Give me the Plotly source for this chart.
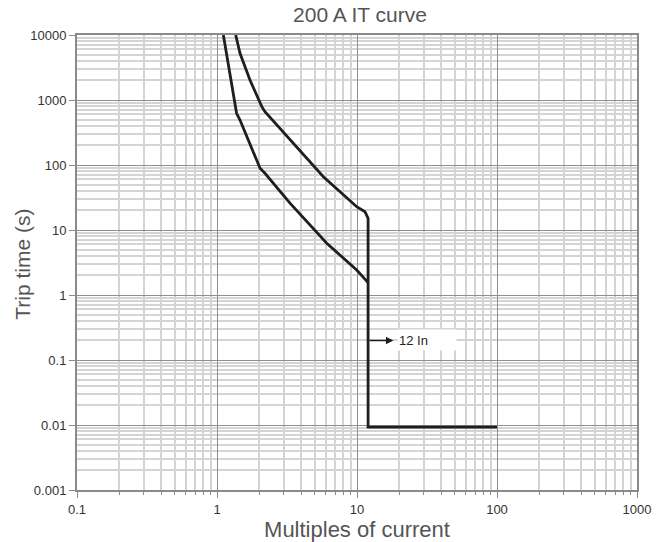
import numpy as np
import plotly.graph_objects as go

# Upper (max) trip curve, continuing into the instantaneous trip
upper_x = [1.36, 1.46, 1.72, 2.09, 2.20, 3.32, 5.75, 9.95, 11.4, 12.0, 12.0, 100]
upper_y = [10000, 5230, 2030, 789, 661, 243, 66, 22.8, 19.1, 15.1, 0.0093, 0.0093]

# Lower (min) trip curve
lower_x = [1.11, 1.38, 1.46, 2.03, 2.20, 3.32, 6.08, 9.95, 12.0]
lower_y = [10000, 624, 492, 89, 74.5, 25.9, 6.24, 2.43, 1.55]

threshold = 12
arrow_end = 18.2
arrow_time = 0.2
label = "12 In"

x_decades = [0.1, 1, 10, 100, 1000]
y_decades = [0.001, 0.01, 0.1, 1, 10, 100, 1000, 10000]
x_ticktext = ["0.1", "1", "10", "100", "1000"]
y_ticktext = ["0.001", "0.01", "0.1", "1", "10", "100", "1000", "10000"]

def minors(decs):
    out = []
    for d in decs[:-1]:
        out += [d * k for k in range(2, 10)]
    return out

FONT = "Liberation Sans, Arial, sans-serif"
line_col = "#1e1e1e"

fig = go.Figure()
fig.add_trace(go.Scatter(x=upper_x, y=upper_y, mode="lines",
                         line=dict(color=line_col, width=2.8), showlegend=False))
fig.add_trace(go.Scatter(x=lower_x, y=lower_y, mode="lines",
                         line=dict(color=line_col, width=2.8), showlegend=False))

fig.add_annotation(x=np.log10(arrow_end), y=np.log10(arrow_time),
                   ax=np.log10(threshold), ay=np.log10(arrow_time),
                   xref="x", yref="y", axref="x", ayref="y",
                   text="", showarrow=True, arrowhead=2, arrowsize=1,
                   arrowwidth=1.5, arrowcolor=line_col)
fig.add_annotation(x=np.log10(arrow_end), y=np.log10(arrow_time),
                   xref="x", yref="y", text=label, showarrow=False,
                   xanchor="left", yanchor="middle", xshift=4,
                   bgcolor="white", width=56, height=18, align="left",
                   font=dict(family=FONT, size=13, color="#222"))

# y-axis title as rotated annotation (placed closer to tick labels)
fig.add_annotation(x=-0.0964, y=0.495, xref="paper", yref="paper",
                   text="Trip time (s)", textangle=-90, showarrow=False,
                   xanchor="center", yanchor="middle",
                   font=dict(family=FONT, size=21, color="#555"))

axis_common = dict(
    type="log", showline=True, linecolor="#8a8a8a", linewidth=2, mirror=True,
    gridcolor="#8f8f8f", gridwidth=1, zeroline=False, automargin=False,
    tickfont=dict(family=FONT, size=13, color="#333"),
    ticks="outside", tickcolor="#8a8a8a", ticklen=6,
)

fig.update_xaxes(**axis_common, range=[-1, 3],
                 tickmode="array", tickvals=x_decades, ticktext=x_ticktext,
                 minor=dict(tickmode="array", tickvals=minors(x_decades), showgrid=True,
                            gridcolor="#d4d4d4", gridwidth=1.5, ticks="outside",
                            ticklen=3, tickcolor="#8a8a8a"),
                 title=dict(text="Multiples of current", standoff=0,
                            font=dict(family=FONT, size=22, color="#555")))
fig.update_yaxes(**axis_common, range=[-3, 4],
                 tickmode="array", tickvals=y_decades, ticktext=y_ticktext,
                 minor=dict(tickmode="array", tickvals=minors(y_decades), showgrid=True,
                            gridcolor="#d4d4d4", gridwidth=1.5, ticks=""))

fig.update_layout(
    width=666, height=542,
    margin=dict(l=77, r=29, t=35, b=52),
    paper_bgcolor="white", plot_bgcolor="white",
    title=dict(text="200 A IT curve", x=0.5405, xanchor="center", y=0.973, yanchor="middle",
               font=dict(family=FONT, size=21, color="#555")),
    showlegend=False,
)

fig.write_html("out.html", config={"displayModeBar": False},
               post_script="document.body.style.margin='0';document.body.style.overflow='hidden';")
